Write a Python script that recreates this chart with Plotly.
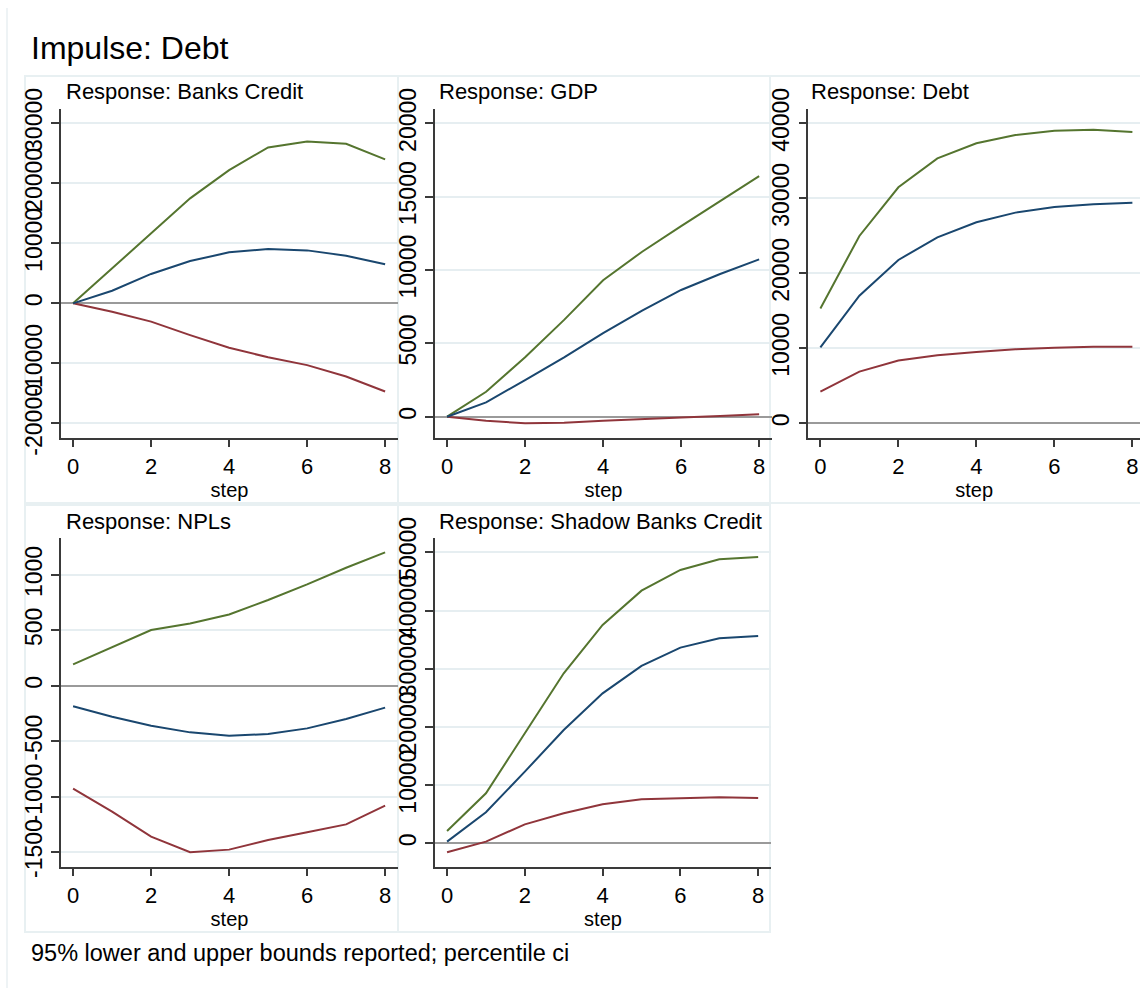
import plotly.graph_objects as go

# Impulse-response functions of a shock to Debt, with 95% percentile bounds
steps = [0, 1, 2, 3, 4, 5, 6, 7, 8]

panel_titles = ["Response: Banks Credit", "Response: GDP", "Response: Debt",
                "Response: NPLs", "Response: Shadow Banks Credit"]

banks_irf = [0, 2100, 4900, 7050, 8500, 9050, 8830, 7950, 6500]
banks_lower = [0, -1400, -3050, -5300, -7400, -9000, -10300, -12200, -14700]
banks_upper = [0, 5800, 11700, 17500, 22200, 26000, 27000, 26600, 24000]

gdp_irf = [0, 980, 2500, 4050, 5700, 7230, 8640, 9730, 10730]
gdp_lower = [0, -270, -450, -410, -270, -140, -50, 50, 160]
gdp_upper = [0, 1700, 4050, 6600, 9300, 11250, 13000, 14700, 16400]

debt_irf = [10130, 17020, 21780, 24800, 26800, 28090, 28840, 29200, 29420]
debt_lower = [4220, 6890, 8360, 9070, 9510, 9870, 10090, 10220, 10220]
debt_upper = [15300, 24980, 31470, 35330, 37330, 38440, 39020, 39150, 38840]

npl_irf = [-186, -280, -361, -421, -451, -436, -385, -301, -198]
npl_lower = [-929, -1136, -1362, -1503, -1479, -1392, -1323, -1251, -1082]
npl_upper = [192, 346, 502, 562, 643, 773, 914, 1064, 1203]

shadow_irf = [290, 5330, 12310, 19470, 25770, 30470, 33620, 35220, 35620]
shadow_lower = [-1550, 290, 3260, 5150, 6700, 7560, 7730, 7900, 7790]
shadow_upper = [2120, 8590, 18900, 29210, 37510, 43410, 46960, 48790, 49200]

x_ticks = [0, 2, 4, 6, 8]
banks_ticks = [-20000, -10000, 0, 10000, 20000, 30000]
gdp_ticks = [0, 5000, 10000, 15000, 20000]
debt_ticks = [0, 10000, 20000, 30000, 40000]
npl_ticks = [-1500, -1000, -500, 0, 500, 1000]
shadow_ticks = [0, 10000, 20000, 30000, 40000, 50000]

W, H = 1140, 988
FONT = "Liberation Sans, Arial, sans-serif"
IRF_C, LOW_C, UP_C = "#1a476f", "#90353b", "#55752f"
GRID_C = "#e6eef1"
AXIS_C = "#3a3a3a"


def px(x):
    return x / W


def py(y):
    return 1 - y / H


panels = [
    # (irf, lower, upper, yticks, yrange, xdomain px, ydomain px, xrange, box px)
    (banks_irf, banks_lower, banks_upper, banks_ticks, [-22400, 32400],
     (61, 398), (109, 437.7), [-0.31, 8.33], (25, 76, 398, 503)),
    (gdp_irf, gdp_lower, gdp_upper, gdp_ticks, [-1432, 20980],
     (435, 772), (109, 437.7), [-0.31, 8.33], (398, 76, 770, 503)),
    (debt_irf, debt_lower, debt_upper, debt_ticks, [-1920, 41907],
     (808.3, 1140), (109, 437.7), [-0.31, 8.195], (770, 76, 1146, 503)),
    (npl_irf, npl_lower, npl_upper, npl_ticks, [-1633, 1330],
     (61, 398), (538.3, 866.7), [-0.31, 8.33], (25, 505, 398, 932)),
    (shadow_irf, shadow_lower, shadow_upper, shadow_ticks, [-4021, 52405],
     (435, 771), (538.3, 866.7), [-0.31, 8.33], (398, 505, 770, 932)),
]

fig = go.Figure()
layout = dict(
    width=W, height=H,
    margin=dict(l=0, r=0, t=0, b=0, autoexpand=False),
    paper_bgcolor="white", plot_bgcolor="white",
    showlegend=False,
    font=dict(family=FONT, color="black"),
    shapes=[], annotations=[],
)

for i, (irf, lo, up, yt, yr, xd, yd, xr, box) in enumerate(panels):
    n = "" if i == 0 else str(i + 1)
    xa, ya = "x" + n, "y" + n
    for vals, col in ((lo, LOW_C), (up, UP_C), (irf, IRF_C)):
        fig.add_trace(go.Scatter(x=steps, y=vals, mode="lines", xaxis=xa, yaxis=ya,
                                 line=dict(color=col, width=2), hoverinfo="skip"))
    layout["xaxis" + n] = dict(
        domain=[px(xd[0]), px(xd[1])], anchor=ya, range=xr, automargin=False,
        tickvals=x_ticks, ticks="outside", ticklen=8, tickwidth=1.5, tickcolor=AXIS_C,
        showline=True, linecolor=AXIS_C, linewidth=1.5, showgrid=False, zeroline=False,
        tickfont=dict(size=22, family=FONT, color="black"),
        title=dict(text="step", font=dict(size=20, family=FONT, color="black"), standoff=0),
    )
    layout["yaxis" + n] = dict(
        domain=[py(yd[1]), py(yd[0])], anchor=xa, range=yr, automargin=False,
        tickvals=yt, ticktext=[str(v) for v in yt], tickangle=-90,
        ticks="outside", ticklen=8, tickwidth=1.5, tickcolor=AXIS_C,
        showline=True, linecolor=AXIS_C, linewidth=1.5,
        showgrid=True, gridcolor=GRID_C, gridwidth=2,
        zeroline=True, zerolinecolor="#9a9a9a", zerolinewidth=1.5,
        tickfont=dict(size=23, family=FONT, color="black"),
    )
    # faint frame around each panel
    layout["shapes"].append(dict(
        type="rect", xref="paper", yref="paper", layer="below",
        x0=px(box[0]), x1=px(box[2]), y0=py(box[3]), y1=py(box[1]),
        line=dict(color="#e8f0f2", width=2), fillcolor="rgba(0,0,0,0)",
    ))
    layout["annotations"].append(dict(
        text=panel_titles[i], xref="paper", yref="paper",
        x=px(box[0] + 39), y=py(box[1] + 16), xanchor="left", yanchor="middle",
        showarrow=False, font=dict(size=22, family=FONT, color="black"),
    ))

# outer graph-region edge
layout["shapes"].append(dict(
    type="line", xref="paper", yref="paper", x0=px(7), x1=px(7), y0=py(988), y1=py(8),
    line=dict(color="#eef3f5", width=2),
))

layout["annotations"].append(dict(
    text="Impulse: Debt", xref="paper", yref="paper", x=px(29), y=py(48),
    xanchor="left", yanchor="middle", showarrow=False,
    font=dict(size=32, family=FONT, color="black"),
))
layout["annotations"].append(dict(
    text="95% lower and upper bounds reported; percentile ci", xref="paper", yref="paper",
    x=px(29), y=py(953), xanchor="left", yanchor="middle", showarrow=False,
    font=dict(size=23.5, family=FONT, color="black"),
))

fig.update_layout(**layout)
fig.write_html("out.html")
